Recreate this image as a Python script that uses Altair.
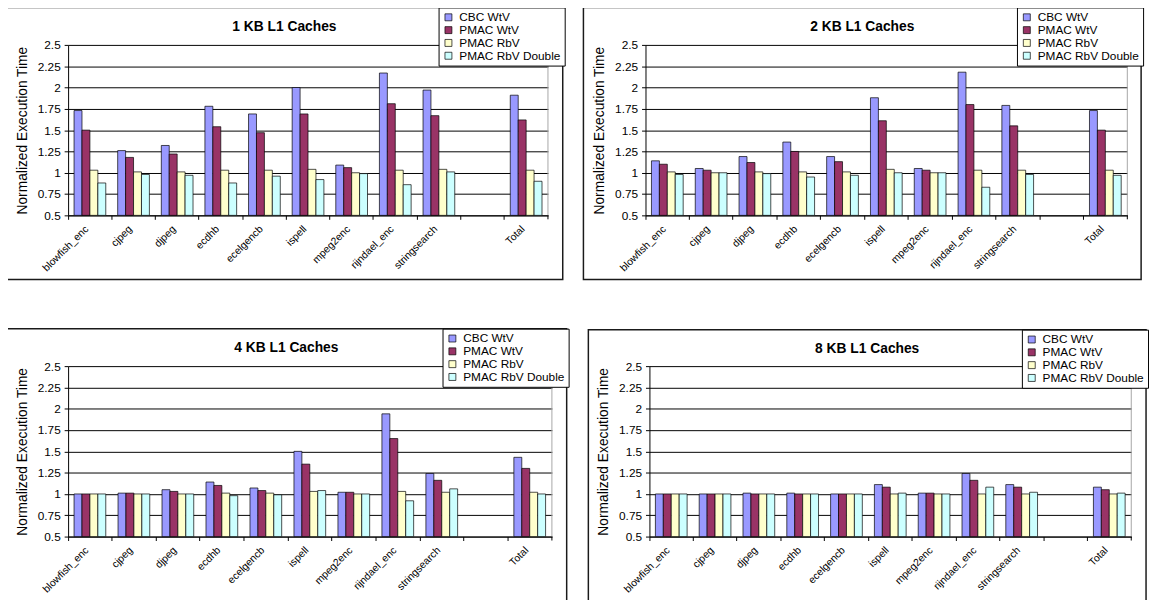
import altair as alt
import pandas as pd

FONT = "Liberation Sans"

benchmarks = ["blowfish_enc", "cjpeg", "djpeg", "ecdhb", "ecelgencb", "ispell",
              "mpeg2enc", "rijndael_enc", "stringsearch", "Total"]
x_slots = ["blowfish_enc", "cjpeg", "djpeg", "ecdhb", "ecelgencb", "ispell",
           "mpeg2enc", "rijndael_enc", "stringsearch", " ", "Total"]
series = ["CBC WtV", "PMAC WtV", "PMAC RbV", "PMAC RbV Double"]
colors = ["#9999FF", "#993366", "#FFFFCC", "#CCFFFF"]
y_ticks = [0.5, 0.75, 1.0, 1.25, 1.5, 1.75, 2.0, 2.25, 2.5]

kb1_cbc_wtv = [1.73, 1.26, 1.32, 1.78, 1.69, 2.00, 1.09, 2.17, 1.97, 1.91]
kb1_pmac_wtv = [1.50, 1.18, 1.22, 1.54, 1.47, 1.69, 1.06, 1.81, 1.67, 1.62]
kb1_pmac_rbv = [1.03, 1.01, 1.01, 1.03, 1.03, 1.04, 1.00, 1.03, 1.04, 1.03]
kb1_pmac_rbv_double = [0.88, 0.98, 0.97, 0.88, 0.96, 0.92, 0.99, 0.86, 1.01, 0.90]

kb2_cbc_wtv = [1.14, 1.05, 1.19, 1.36, 1.19, 1.88, 1.05, 2.18, 1.79, 1.73]
kb2_pmac_wtv = [1.10, 1.03, 1.12, 1.25, 1.13, 1.61, 1.03, 1.80, 1.55, 1.50]
kb2_pmac_rbv = [1.01, 1.00, 1.01, 1.01, 1.01, 1.04, 1.00, 1.03, 1.03, 1.03]
kb2_pmac_rbv_double = [0.98, 1.00, 0.99, 0.95, 0.97, 1.00, 1.00, 0.83, 0.98, 0.97]

kb4_cbc_wtv = [1.00, 1.01, 1.05, 1.14, 1.07, 1.50, 1.02, 1.94, 1.24, 1.43]
kb4_pmac_wtv = [1.00, 1.01, 1.03, 1.10, 1.04, 1.35, 1.02, 1.65, 1.16, 1.30]
kb4_pmac_rbv = [1.00, 1.00, 1.00, 1.01, 1.01, 1.03, 1.00, 1.03, 1.02, 1.02]
kb4_pmac_rbv_double = [1.00, 1.00, 1.00, 0.98, 0.99, 1.04, 1.00, 0.92, 1.06, 1.00]

kb8_cbc_wtv = [1.00, 1.00, 1.01, 1.01, 1.00, 1.11, 1.01, 1.24, 1.11, 1.08]
kb8_pmac_wtv = [1.00, 1.00, 1.00, 1.00, 1.00, 1.08, 1.01, 1.16, 1.08, 1.05]
kb8_pmac_rbv = [1.00, 1.00, 1.00, 1.00, 1.00, 1.00, 1.00, 1.00, 1.00, 1.00]
kb8_pmac_rbv_double = [1.00, 1.00, 1.00, 1.00, 1.00, 1.01, 1.00, 1.08, 1.02, 1.01]

PLOT_H = 173


def panel(title, values, plot_w, frame_l, frame_r, frame_t, frame_b):
    rows = []
    for s, vals in zip(series, values):
        for b, v in zip(benchmarks, vals):
            rows.append({"bench": b, "series": s, "value": v})
    df = pd.DataFrame(rows)
    one = pd.DataFrame({"k": [0]})

    frame = alt.Chart(one).mark_rect(
        fill="white", fillOpacity=0, stroke="#1a1a1a", strokeWidth=1.5
    ).encode(
        x=alt.value(frame_l), x2=alt.value(frame_r),
        y=alt.value(frame_t), y2=alt.value(frame_b),
    )

    right_line = alt.Chart(one).mark_rule(color="#a6a6a6", strokeWidth=1).encode(
        x=alt.value(plot_w), y=alt.value(0), y2=alt.value(PLOT_H)
    )
    end_tick = alt.Chart(one).mark_rule(color="black", strokeWidth=1).encode(
        x=alt.value(plot_w), y=alt.value(PLOT_H), y2=alt.value(PLOT_H + 4)
    )

    bars = alt.Chart(df).mark_bar(stroke="black", strokeWidth=0.7).encode(
        x=alt.X(
            "bench:N",
            sort=x_slots,
            scale=alt.Scale(domain=x_slots, paddingInner=0, paddingOuter=0),
            axis=alt.Axis(
                title=None, labelAngle=315, labelAlign="right", labelBaseline="middle",
                bandPosition=0, labelOffset=-3, labelPadding=8, tickSize=4,
                tickColor="black", domainColor="black", labelColor="black",
                labelFontSize=10.5, labelFont=FONT, grid=False,
            ),
        ),
        xOffset=alt.XOffset(
            "series:N",
            scale=alt.Scale(domain=series, paddingInner=0, paddingOuter=0.75),
        ),
        y=alt.Y(
            "value:Q",
            scale=alt.Scale(domain=[0.5, 2.5], nice=False, zero=False),
            axis=alt.Axis(
                title="Normalized Execution Time", values=y_ticks,
                labelExpr="'' + datum.value", tickSize=4, tickColor="black",
                domainColor="black", labelColor="black", labelFontSize=12,
                labelFont=FONT, labelPadding=4, titleFont=FONT, titleFontSize=14,
                titleFontWeight="normal", titleColor="black", titlePadding=8,
                grid=True, gridColor="black", gridWidth=1, gridOpacity=1,
            ),
        ),
        y2=alt.datum(0.5),
        color=alt.Color(
            "series:N",
            scale=alt.Scale(domain=series, range=colors),
            legend=alt.Legend(
                title=None, orient="none", legendX=frame_r - 126, legendY=frame_t,
                strokeColor="black", fillColor="white", padding=4,
                symbolType="square", symbolSize=50, symbolStrokeColor="black",
                symbolStrokeWidth=0.7, labelFont=FONT, labelFontSize=12,
                labelColor="black", rowPadding=1, labelOffset=5,
            ),
        ),
    )

    ttl = alt.Chart(one).mark_text(
        text=title, font=FONT, fontSize=14, fontWeight="bold", color="black"
    ).encode(x=alt.value((frame_l + frame_r) / 2), y=alt.value(frame_t + 20))

    return alt.layer(frame, right_line, end_tick, bars, ttl).properties(width=plot_w, height=PLOT_H)


p1 = panel("1 KB L1 Caches",
           [kb1_cbc_wtv, kb1_pmac_wtv, kb1_pmac_rbv, kb1_pmac_rbv_double],
           487, -63, 502, -38, 238)
p2 = panel("2 KB L1 Caches",
           [kb2_cbc_wtv, kb2_pmac_wtv, kb2_pmac_rbv, kb2_pmac_rbv_double],
           489, -63, 503, -38, 238)
p3 = panel("4 KB L1 Caches",
           [kb4_cbc_wtv, kb4_pmac_wtv, kb4_pmac_rbv, kb4_pmac_rbv_double],
           491, -63, 506, -38, 238)
p4 = panel("8 KB L1 Caches",
           [kb8_cbc_wtv, kb8_pmac_wtv, kb8_pmac_rbv, kb8_pmac_rbv_double],
           489, -62, 504, -37, 238)

row1 = alt.hconcat(p1, p2, spacing=17).resolve_scale(color="independent").resolve_legend(color="independent")
row2 = alt.hconcat(p3, p4, spacing=18).resolve_scale(color="independent").resolve_legend(color="independent")

chart = (
    alt.vconcat(row1, row2, spacing=48)
    .resolve_scale(color="independent")
    .resolve_legend(color="independent")
    .configure_view(strokeWidth=0)
    .properties(padding={"left": -3, "top": -6, "right": 0, "bottom": 0}, background="white")
)

chart.save("out.html", embed_options={"renderer": "svg", "actions": False})
